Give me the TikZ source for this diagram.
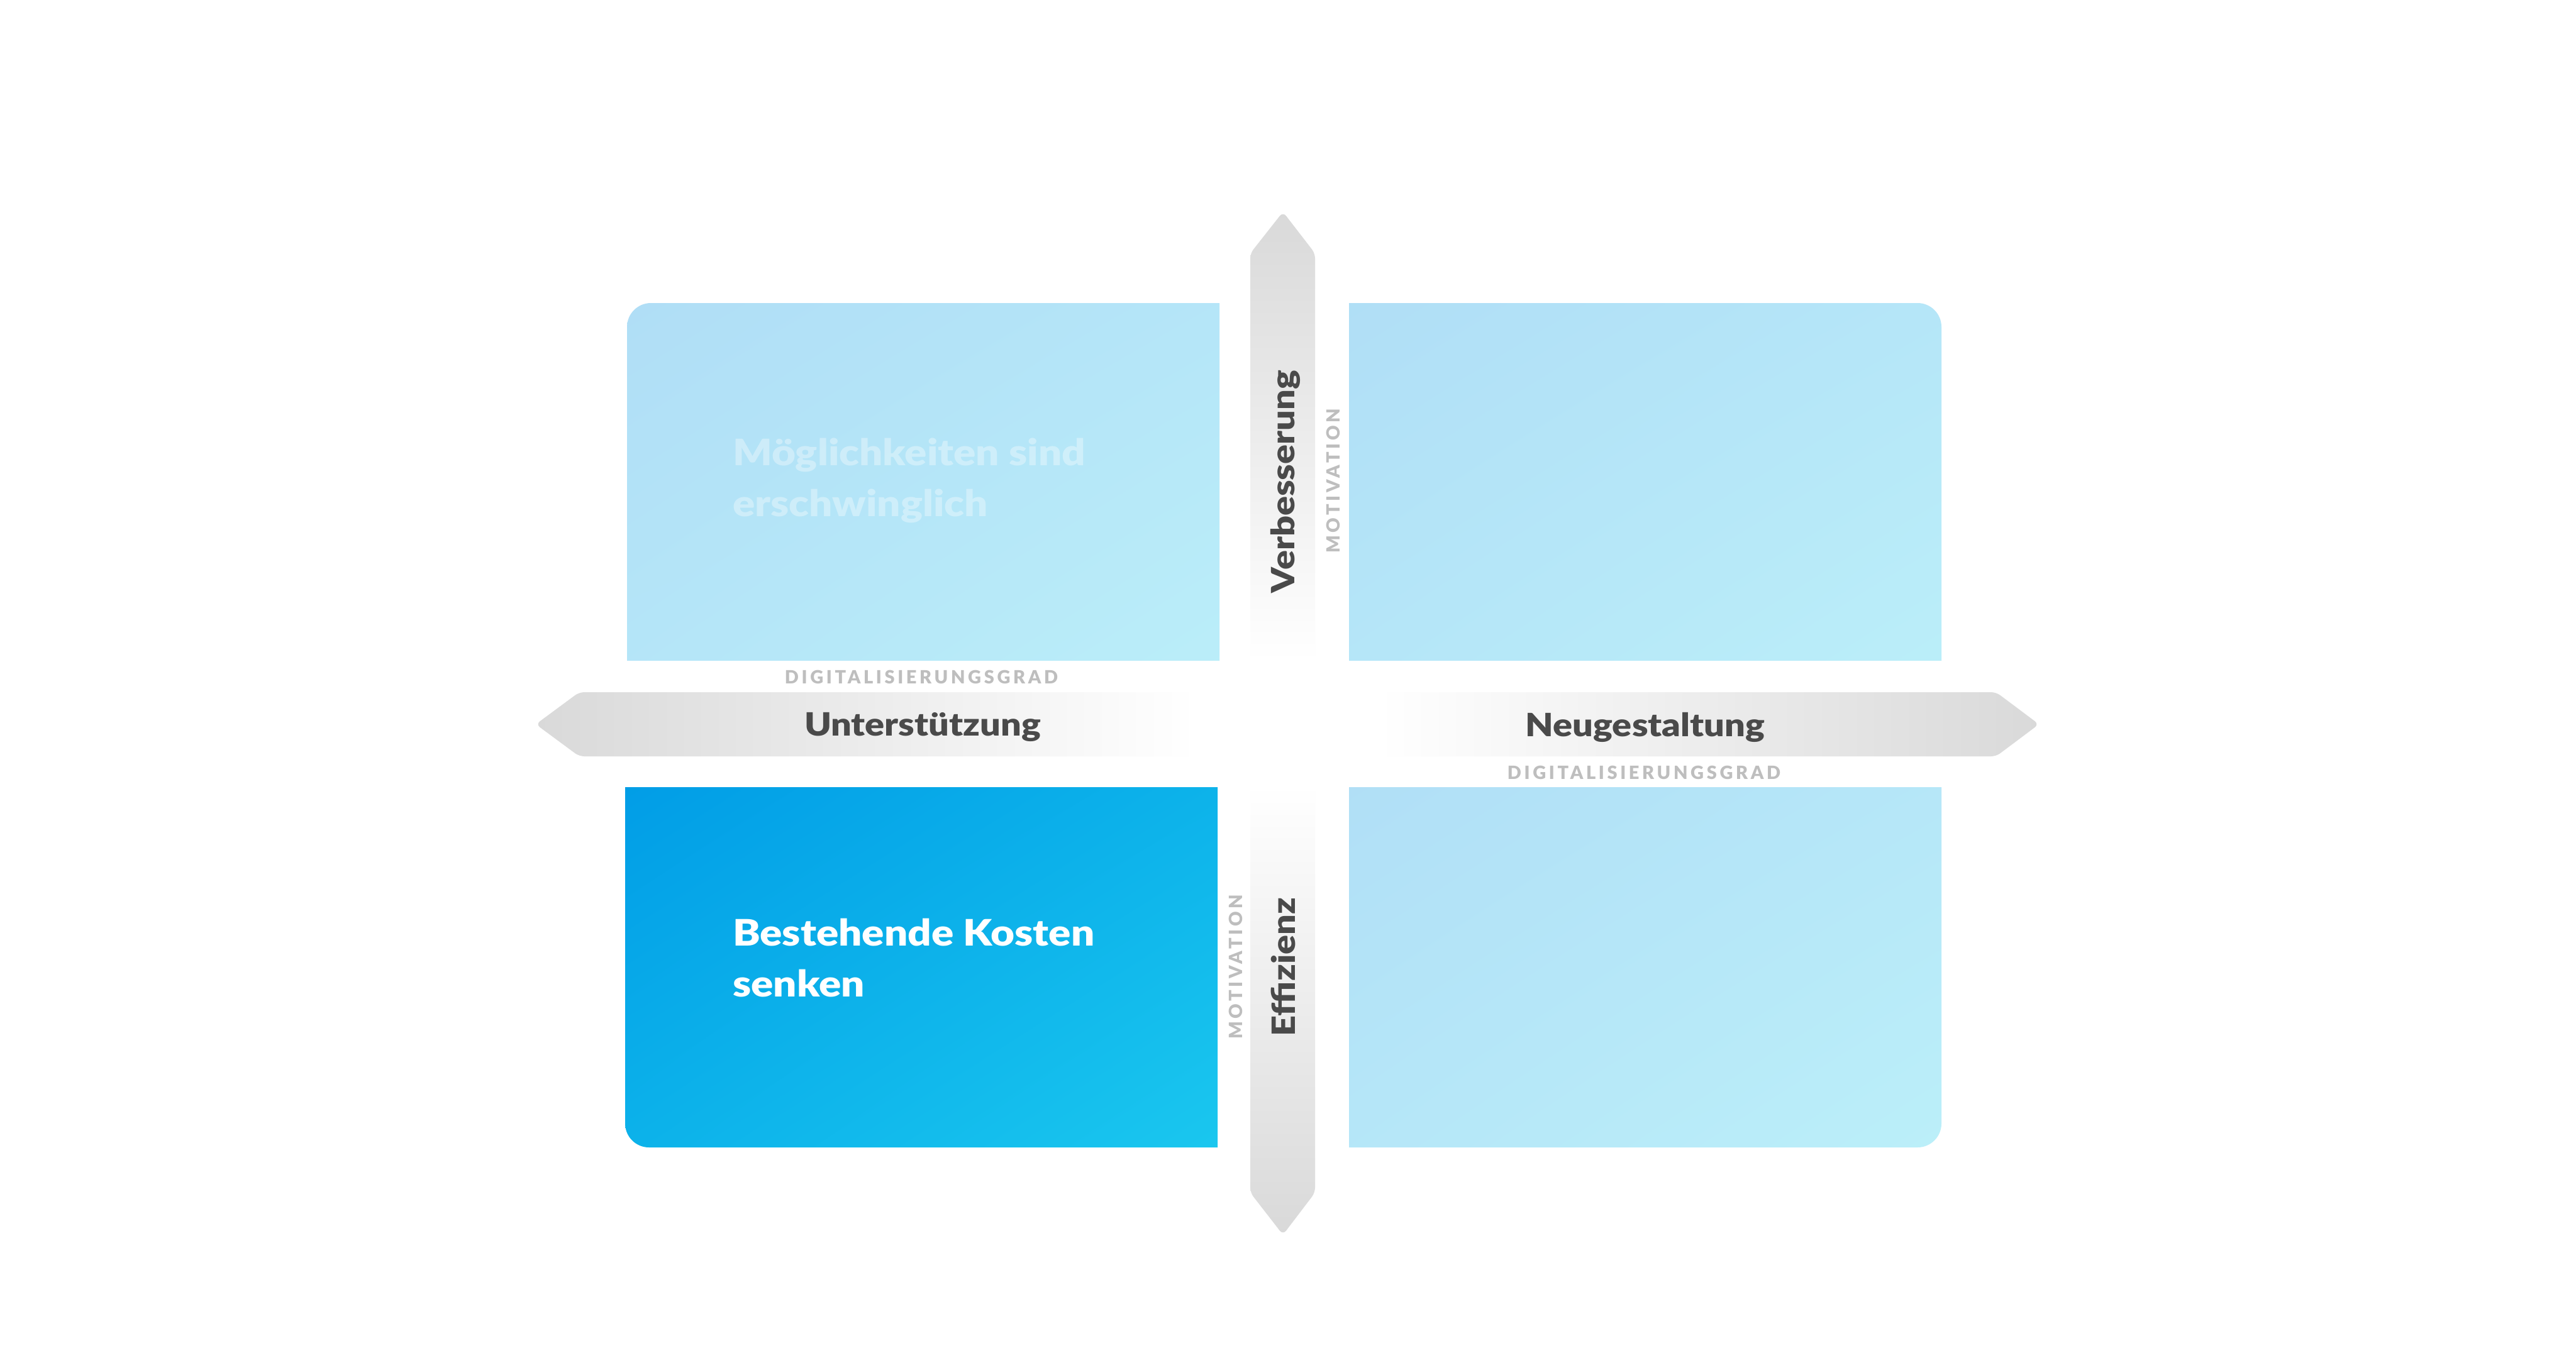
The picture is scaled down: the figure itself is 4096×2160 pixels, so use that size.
\documentclass[tikz,border=0pt]{standalone}
\usepackage{fontspec}
\usepackage{tikz}
\usepackage{xcolor}
\usetikzlibrary{shadings}
\setmainfont{Lato}[BoldFont={Lato Black}, BoldFeatures={FakeStretch=1.13}]
\newfontfamily\capsfont{Lato}[BoldFont={Lato Black}, LetterSpace=16]

\definecolor{lightA}{RGB}{176,222,246}
\definecolor{lightM}{RGB}{181,230,248}
\definecolor{lightB}{RGB}{187,239,249}
\definecolor{darkA}{RGB}{0,155,230}
\definecolor{darkM}{RGB}{12,178,234}
\definecolor{darkB}{RGB}{27,200,239}
\definecolor{arrowgray}{RGB}{217,217,217}
\definecolor{labelgray}{RGB}{74,74,74}
\definecolor{captiongray}{RGB}{190,190,190}

\pgfdeclarehorizontalshading{axisfade}{100bp}{color(0bp)=(arrowgray); color(25bp)=(arrowgray); color(47bp)=(white); color(53bp)=(white); color(75bp)=(arrowgray); color(100bp)=(arrowgray)}

\tikzset{
  lightbox/.style={upper left=lightA, lower right=lightB, upper right=lightM, lower left=lightM},
  darkbox/.style={upper left=darkA, lower right=darkB, upper right=darkM, lower left=darkM},
  axislabel/.style={font=\fontsize{51}{60}\selectfont\bfseries, text=labelgray, inner sep=0},
  axiscaption/.style={font=\fontsize{29}{34}\capsfont\bfseries, text=captiongray, inner sep=0},
  boxtext/.style={font=\fontsize{58}{81}\selectfont\bfseries, align=left, inner sep=0, anchor=north west}
}

\begin{document}
\begin{tikzpicture}[x=1pt, y=-1pt]
            \fill[white] (0,0) rectangle (4096,2160);
            \useasboundingbox (0,0) rectangle (4096,2160);
            % quadrants
            \begin{scope}
                \clip (997,482) rectangle (1939,1050);
                \shade[lightbox, rounded corners=38] (997,482) rectangle (2000,1110);
            \end{scope}
            \begin{scope}
                \clip (2145,482) rectangle (3087,1050);
                \shade[lightbox, rounded corners=38] (2085,482) rectangle (3087,1110);
            \end{scope}
            \begin{scope}
                \clip (994,1252) rectangle (1936,1825);
                \shade[darkbox, rounded corners=38] (994,1192) rectangle (1996,1825);
            \end{scope}
            \begin{scope}
                \clip (2145,1252) rectangle (3087,1825);
                \shade[lightbox, rounded corners=38] (2085,1192) rectangle (3087,1825);
            \end{scope}
            % axes
            \shade[shading=axisfade, rounded corners=8] (852,1152) -- (921,1101) -- (3174,1101) -- (3242,1152) -- (3174,1203) -- (921,1203) -- cycle;
            \shade[shading=axisfade, shading angle=90, rounded corners=8] (2040,337) -- (2091,403) -- (2091,1897) -- (2040,1964) -- (1988,1897) -- (1988,403) -- cycle;
            % labels
            \node[axislabel, anchor=base] (unter) at (1467,1170) {Unterstützung};
            \node[axislabel, anchor=base] (neu) at (2616,1171) {Neugestaltung};
            \node[axislabel, anchor=base, rotate=90] (verb) at (2058,766) {Verbesserung};
            \node[axislabel, anchor=base, rotate=90] (eff) at (2059,1538) {Effizienz};
            \node[axiscaption, anchor=base] (digi1) at (1465,1087) {DIGITALISIERUNGSGRAD};
            \node[axiscaption, anchor=base] (digi2) at (2614,1239) {DIGITALISIERUNGSGRAD};
            \node[axiscaption, anchor=base, rotate=90] (moti1) at (2130,765) {MOTIVATION};
            \node[axiscaption, anchor=base, rotate=90] (moti2) at (1975,1538) {MOTIVATION};
            \node[boxtext, text=white, text opacity=0.35] (opp) at (1165,697) {Möglichkeiten sind\\erschwinglich};
            \node[boxtext, text=white] (cost) at (1165,1461) {Bestehende Kosten\\senken};
        \end{tikzpicture}
\end{document}
